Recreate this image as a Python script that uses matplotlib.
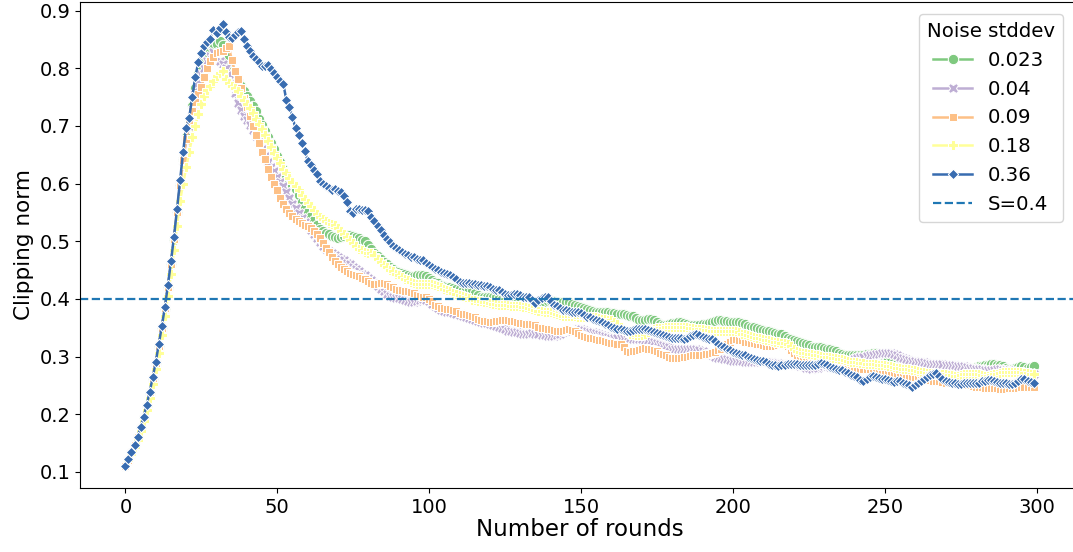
import numpy as np
import pandas as pd
import matplotlib
matplotlib.use("Agg")
import matplotlib.pyplot as plt
import seaborn as sns

rounds = np.arange(300)
noise_levels = ["0.023", "0.04", "0.09", "0.18", "0.36"]
threshold = 0.4

# clipping norm per round
norm_023 = [
    0.110, 0.121, 0.133, 0.146, 0.160, 0.176, 0.194, 0.214, 0.237, 0.262,
    0.289, 0.319, 0.350, 0.383, 0.420, 0.460, 0.503, 0.550, 0.598, 0.642,
    0.680, 0.705, 0.735, 0.765, 0.790, 0.805, 0.815, 0.822, 0.830, 0.838,
    0.842, 0.847, 0.840, 0.820, 0.805, 0.795, 0.785, 0.778, 0.770, 0.760,
    0.752, 0.743, 0.735, 0.725, 0.712, 0.702, 0.692, 0.680, 0.670, 0.660,
    0.648, 0.638, 0.625, 0.614, 0.606, 0.598, 0.590, 0.580, 0.568, 0.558,
    0.550, 0.543, 0.536, 0.528, 0.522, 0.518, 0.515, 0.512, 0.509, 0.507,
    0.506, 0.507, 0.509, 0.510, 0.510, 0.509, 0.507, 0.505, 0.502, 0.500,
    0.493, 0.487, 0.479, 0.474, 0.469, 0.464, 0.460, 0.456, 0.452, 0.449,
    0.447, 0.445, 0.443, 0.441, 0.440, 0.440, 0.441, 0.441, 0.441, 0.440,
    0.437, 0.433, 0.429, 0.427, 0.425, 0.423, 0.421, 0.420, 0.419, 0.418,
    0.417, 0.416, 0.415, 0.415, 0.413, 0.410, 0.406, 0.403, 0.403, 0.403,
    0.403, 0.403, 0.403, 0.402, 0.400, 0.398, 0.396, 0.394, 0.394, 0.393,
    0.393, 0.392, 0.392, 0.392, 0.393, 0.394, 0.394, 0.394, 0.395, 0.396,
    0.396, 0.396, 0.395, 0.395, 0.394, 0.394, 0.394, 0.392, 0.390, 0.388,
    0.386, 0.384, 0.382, 0.380, 0.379, 0.378, 0.377, 0.377, 0.377, 0.377,
    0.376, 0.375, 0.374, 0.374, 0.373, 0.372, 0.371, 0.370, 0.367, 0.363,
    0.363, 0.364, 0.365, 0.366, 0.364, 0.360, 0.356, 0.354, 0.355, 0.357,
    0.358, 0.359, 0.360, 0.360, 0.359, 0.357, 0.355, 0.354, 0.354, 0.355,
    0.356, 0.357, 0.358, 0.360, 0.362, 0.363, 0.363, 0.362, 0.361, 0.360,
    0.360, 0.360, 0.360, 0.359, 0.356, 0.353, 0.352, 0.351, 0.350, 0.348,
    0.346, 0.345, 0.344, 0.343, 0.341, 0.340, 0.339, 0.336, 0.333, 0.330,
    0.328, 0.327, 0.325, 0.324, 0.322, 0.320, 0.317, 0.316, 0.316, 0.316,
    0.315, 0.314, 0.313, 0.312, 0.310, 0.307, 0.304, 0.303, 0.302, 0.302,
    0.303, 0.303, 0.303, 0.303, 0.304, 0.305, 0.306, 0.307, 0.305, 0.302,
    0.299, 0.296, 0.293, 0.291, 0.289, 0.288, 0.287, 0.286, 0.285, 0.284,
    0.283, 0.282, 0.281, 0.280, 0.279, 0.278, 0.278, 0.277, 0.277, 0.276,
    0.276, 0.276, 0.276, 0.276, 0.277, 0.277, 0.278, 0.279, 0.280, 0.281,
    0.282, 0.283, 0.284, 0.285, 0.286, 0.287, 0.287, 0.286, 0.285, 0.284,
    0.281, 0.279, 0.278, 0.280, 0.282, 0.283, 0.282, 0.281, 0.282, 0.284,
]

norm_04 = [
    0.110, 0.121, 0.133, 0.146, 0.160, 0.176, 0.194, 0.214, 0.237, 0.262,
    0.289, 0.319, 0.350, 0.384, 0.421, 0.461, 0.504, 0.551, 0.598, 0.640,
    0.675, 0.700, 0.728, 0.755, 0.775, 0.790, 0.800, 0.812, 0.822, 0.828,
    0.820, 0.812, 0.808, 0.800, 0.790, 0.775, 0.757, 0.740, 0.728, 0.718,
    0.710, 0.702, 0.693, 0.683, 0.672, 0.660, 0.648, 0.638, 0.629, 0.621,
    0.612, 0.603, 0.595, 0.585, 0.575, 0.565, 0.557, 0.549, 0.541, 0.533,
    0.526, 0.519, 0.512, 0.505, 0.498, 0.492, 0.487, 0.483, 0.479, 0.476,
    0.473, 0.470, 0.467, 0.463, 0.460, 0.456, 0.452, 0.448, 0.444, 0.441,
    0.437, 0.432, 0.427, 0.422, 0.418, 0.413, 0.409, 0.405, 0.403, 0.402,
    0.401, 0.400, 0.398, 0.396, 0.394, 0.395, 0.397, 0.399, 0.400, 0.399,
    0.396, 0.392, 0.388, 0.384, 0.381, 0.379, 0.378, 0.377, 0.375, 0.373,
    0.372, 0.371, 0.369, 0.367, 0.365, 0.364, 0.362, 0.360, 0.359, 0.358,
    0.357, 0.355, 0.353, 0.351, 0.349, 0.347, 0.345, 0.344, 0.343, 0.342,
    0.341, 0.340, 0.340, 0.340, 0.341, 0.340, 0.339, 0.338, 0.337, 0.336,
    0.335, 0.336, 0.338, 0.340, 0.342, 0.344, 0.346, 0.347, 0.348, 0.348,
    0.347, 0.346, 0.344, 0.343, 0.342, 0.341, 0.339, 0.337, 0.335, 0.334,
    0.333, 0.333, 0.333, 0.333, 0.332, 0.332, 0.332, 0.331, 0.331, 0.331,
    0.330, 0.329, 0.328, 0.327, 0.325, 0.324, 0.322, 0.320, 0.318, 0.316,
    0.314, 0.313, 0.313, 0.313, 0.314, 0.314, 0.314, 0.313, 0.313, 0.311,
    0.309, 0.307, 0.305, 0.302, 0.300, 0.298, 0.297, 0.296, 0.295, 0.294,
    0.293, 0.293, 0.292, 0.292, 0.291, 0.291, 0.290, 0.290, 0.290, 0.290,
    0.290, 0.290, 0.290, 0.290, 0.289, 0.289, 0.288, 0.288, 0.287, 0.287,
    0.286, 0.285, 0.284, 0.283, 0.281, 0.280, 0.279, 0.280, 0.281, 0.283,
    0.283, 0.283, 0.282, 0.281, 0.281, 0.281, 0.283, 0.286, 0.289, 0.292,
    0.295, 0.297, 0.299, 0.300, 0.301, 0.302, 0.303, 0.304, 0.305, 0.306,
    0.307, 0.307, 0.306, 0.304, 0.302, 0.300, 0.298, 0.296, 0.294, 0.293,
    0.292, 0.291, 0.290, 0.290, 0.289, 0.288, 0.288, 0.287, 0.287, 0.287,
    0.286, 0.286, 0.285, 0.285, 0.284, 0.284, 0.283, 0.282, 0.281, 0.280,
    0.279, 0.279, 0.278, 0.277, 0.276, 0.276, 0.277, 0.278, 0.278, 0.277,
    0.277, 0.276, 0.275, 0.274, 0.274, 0.273, 0.272, 0.271, 0.271, 0.270,
]

norm_09 = [
    0.110, 0.121, 0.133, 0.146, 0.160, 0.176, 0.194, 0.214, 0.237, 0.262,
    0.289, 0.319, 0.350, 0.384, 0.421, 0.461, 0.504, 0.551, 0.598, 0.641,
    0.678, 0.703, 0.725, 0.742, 0.755, 0.768, 0.785, 0.800, 0.812, 0.820,
    0.826, 0.828, 0.830, 0.835, 0.838, 0.815, 0.795, 0.782, 0.765, 0.748,
    0.732, 0.718, 0.700, 0.685, 0.670, 0.655, 0.643, 0.625, 0.612, 0.600,
    0.588, 0.575, 0.565, 0.556, 0.549, 0.543, 0.538, 0.535, 0.532, 0.529,
    0.526, 0.523, 0.518, 0.512, 0.505, 0.497, 0.489, 0.481, 0.473, 0.465,
    0.460, 0.456, 0.452, 0.448, 0.445, 0.444, 0.442, 0.440, 0.437, 0.434,
    0.431, 0.428, 0.426, 0.426, 0.427, 0.428, 0.426, 0.423, 0.420, 0.418,
    0.416, 0.415, 0.414, 0.413, 0.412, 0.410, 0.407, 0.405, 0.404, 0.403,
    0.400, 0.396, 0.390, 0.387, 0.385, 0.384, 0.383, 0.382, 0.381, 0.379,
    0.376, 0.374, 0.373, 0.372, 0.370, 0.368, 0.366, 0.364, 0.362, 0.361,
    0.360, 0.360, 0.361, 0.362, 0.363, 0.363, 0.363, 0.362, 0.361, 0.360,
    0.359, 0.358, 0.357, 0.356, 0.356, 0.354, 0.352, 0.350, 0.349, 0.348,
    0.347, 0.346, 0.345, 0.345, 0.345, 0.346, 0.347, 0.346, 0.344, 0.341,
    0.338, 0.335, 0.334, 0.333, 0.332, 0.331, 0.329, 0.328, 0.327, 0.326,
    0.324, 0.323, 0.322, 0.321, 0.316, 0.310, 0.308, 0.309, 0.310, 0.312,
    0.314, 0.315, 0.314, 0.313, 0.311, 0.309, 0.306, 0.304, 0.302, 0.300,
    0.298, 0.297, 0.297, 0.298, 0.299, 0.300, 0.301, 0.302, 0.302, 0.302,
    0.303, 0.304, 0.305, 0.306, 0.308, 0.311, 0.314, 0.318, 0.322, 0.326,
    0.329, 0.330, 0.329, 0.328, 0.326, 0.325, 0.324, 0.323, 0.322, 0.321,
    0.320, 0.319, 0.318, 0.318, 0.319, 0.320, 0.321, 0.321, 0.318, 0.312,
    0.306, 0.302, 0.299, 0.296, 0.294, 0.292, 0.291, 0.290, 0.289, 0.288,
    0.287, 0.286, 0.285, 0.284, 0.283, 0.282, 0.281, 0.280, 0.280, 0.279,
    0.279, 0.279, 0.278, 0.278, 0.279, 0.278, 0.277, 0.276, 0.275, 0.274,
    0.273, 0.272, 0.271, 0.270, 0.269, 0.268, 0.267, 0.266, 0.265, 0.264,
    0.264, 0.263, 0.262, 0.261, 0.260, 0.259, 0.258, 0.258, 0.257, 0.256,
    0.255, 0.255, 0.254, 0.254, 0.253, 0.252, 0.252, 0.251, 0.250, 0.249,
    0.248, 0.248, 0.247, 0.246, 0.246, 0.245, 0.245, 0.245, 0.244, 0.244,
    0.244, 0.245, 0.245, 0.246, 0.246, 0.247, 0.247, 0.247, 0.248, 0.248,
]

norm_18 = [
    0.110, 0.120, 0.131, 0.143, 0.156, 0.171, 0.188, 0.207, 0.228, 0.252,
    0.278, 0.306, 0.337, 0.370, 0.405, 0.443, 0.484, 0.527, 0.570, 0.600,
    0.628, 0.655, 0.680, 0.700, 0.720, 0.738, 0.752, 0.762, 0.770, 0.778,
    0.786, 0.792, 0.795, 0.782, 0.775, 0.770, 0.766, 0.760, 0.752, 0.745,
    0.738, 0.731, 0.722, 0.712, 0.703, 0.694, 0.684, 0.673, 0.663, 0.653,
    0.644, 0.635, 0.626, 0.618, 0.610, 0.602, 0.595, 0.588, 0.580, 0.573,
    0.567, 0.561, 0.554, 0.548, 0.542, 0.538, 0.535, 0.532, 0.530, 0.528,
    0.523, 0.518, 0.512, 0.507, 0.502, 0.497, 0.492, 0.487, 0.484, 0.482,
    0.480, 0.479, 0.476, 0.470, 0.464, 0.459, 0.455, 0.451, 0.448, 0.444,
    0.441, 0.438, 0.435, 0.432, 0.429, 0.427, 0.426, 0.426, 0.426, 0.426,
    0.426, 0.426, 0.424, 0.422, 0.420, 0.418, 0.416, 0.414, 0.411, 0.409,
    0.407, 0.405, 0.403, 0.401, 0.399, 0.398, 0.397, 0.396, 0.395, 0.394,
    0.393, 0.392, 0.391, 0.390, 0.390, 0.389, 0.389, 0.388, 0.388, 0.387,
    0.387, 0.386, 0.386, 0.384, 0.382, 0.380, 0.379, 0.379, 0.378, 0.378,
    0.377, 0.376, 0.374, 0.372, 0.371, 0.371, 0.370, 0.370, 0.370, 0.369,
    0.369, 0.369, 0.368, 0.368, 0.368, 0.368, 0.367, 0.366, 0.365, 0.364,
    0.363, 0.360, 0.356, 0.351, 0.346, 0.342, 0.340, 0.339, 0.338, 0.337,
    0.338, 0.340, 0.343, 0.346, 0.348, 0.349, 0.350, 0.350, 0.351, 0.351,
    0.351, 0.351, 0.351, 0.351, 0.351, 0.351, 0.350, 0.349, 0.348, 0.347,
    0.347, 0.346, 0.346, 0.345, 0.345, 0.345, 0.345, 0.345, 0.345, 0.345,
    0.345, 0.344, 0.342, 0.340, 0.339, 0.337, 0.336, 0.334, 0.333, 0.332,
    0.331, 0.329, 0.328, 0.327, 0.326, 0.325, 0.324, 0.323, 0.322, 0.318,
    0.313, 0.310, 0.308, 0.307, 0.306, 0.305, 0.304, 0.303, 0.302, 0.301,
    0.300, 0.299, 0.299, 0.298, 0.297, 0.296, 0.295, 0.294, 0.293, 0.291,
    0.290, 0.290, 0.289, 0.289, 0.288, 0.288, 0.287, 0.287, 0.286, 0.285,
    0.285, 0.284, 0.283, 0.282, 0.281, 0.280, 0.279, 0.279, 0.278, 0.277,
    0.276, 0.275, 0.274, 0.273, 0.272, 0.271, 0.271, 0.270, 0.270, 0.269,
    0.269, 0.268, 0.268, 0.267, 0.267, 0.268, 0.269, 0.270, 0.270, 0.270,
    0.270, 0.269, 0.268, 0.267, 0.267, 0.268, 0.269, 0.270, 0.272, 0.273,
    0.273, 0.273, 0.273, 0.273, 0.273, 0.273, 0.272, 0.271, 0.270, 0.270,
]

norm_36 = [
    0.110, 0.122, 0.134, 0.147, 0.161, 0.178, 0.196, 0.216, 0.239, 0.264,
    0.291, 0.322, 0.353, 0.386, 0.424, 0.465, 0.508, 0.556, 0.606, 0.655,
    0.697, 0.714, 0.750, 0.785, 0.810, 0.826, 0.838, 0.845, 0.850, 0.866,
    0.861, 0.870, 0.877, 0.862, 0.855, 0.852, 0.857, 0.862, 0.864, 0.850,
    0.838, 0.830, 0.822, 0.816, 0.810, 0.803, 0.804, 0.806, 0.798, 0.792,
    0.785, 0.778, 0.772, 0.745, 0.733, 0.715, 0.696, 0.685, 0.670, 0.657,
    0.640, 0.632, 0.623, 0.617, 0.605, 0.600, 0.596, 0.592, 0.589, 0.590,
    0.587, 0.586, 0.578, 0.568, 0.552, 0.549, 0.556, 0.556, 0.554, 0.555,
    0.553, 0.542, 0.535, 0.526, 0.520, 0.510, 0.504, 0.498, 0.492, 0.488,
    0.484, 0.481, 0.478, 0.476, 0.473, 0.472, 0.470, 0.468, 0.467, 0.462,
    0.458, 0.455, 0.452, 0.450, 0.447, 0.445, 0.443, 0.441, 0.438, 0.434,
    0.430, 0.428, 0.428, 0.427, 0.426, 0.426, 0.425, 0.424, 0.423, 0.422,
    0.420, 0.418, 0.416, 0.415, 0.412, 0.408, 0.406, 0.407, 0.409, 0.409,
    0.406, 0.404, 0.403, 0.403, 0.398, 0.393, 0.398, 0.401, 0.403, 0.403,
    0.396, 0.390, 0.388, 0.384, 0.381, 0.380, 0.379, 0.378, 0.377, 0.377,
    0.375, 0.372, 0.369, 0.368, 0.366, 0.364, 0.362, 0.360, 0.357, 0.354,
    0.351, 0.350, 0.348, 0.347, 0.346, 0.345, 0.345, 0.346, 0.347, 0.348,
    0.348, 0.348, 0.346, 0.344, 0.342, 0.341, 0.339, 0.337, 0.335, 0.334,
    0.333, 0.332, 0.333, 0.333, 0.331, 0.332, 0.335, 0.338, 0.340, 0.337,
    0.334, 0.332, 0.331, 0.330, 0.327, 0.322, 0.318, 0.316, 0.314, 0.311,
    0.308, 0.306, 0.305, 0.303, 0.302, 0.300, 0.298, 0.296, 0.294, 0.293,
    0.292, 0.290, 0.288, 0.286, 0.285, 0.284, 0.285, 0.286, 0.287, 0.287,
    0.287, 0.287, 0.286, 0.286, 0.286, 0.285, 0.285, 0.286, 0.288, 0.289,
    0.288, 0.285, 0.282, 0.281, 0.279, 0.277, 0.276, 0.274, 0.271, 0.268,
    0.266, 0.264, 0.260, 0.258, 0.261, 0.264, 0.266, 0.265, 0.263, 0.262,
    0.261, 0.259, 0.257, 0.256, 0.258, 0.258, 0.255, 0.252, 0.250, 0.248,
    0.250, 0.254, 0.258, 0.262, 0.265, 0.268, 0.270, 0.272, 0.267, 0.262,
    0.258, 0.256, 0.255, 0.254, 0.253, 0.253, 0.254, 0.255, 0.255, 0.255,
    0.255, 0.255, 0.257, 0.258, 0.259, 0.260, 0.258, 0.256, 0.255, 0.255,
    0.254, 0.253, 0.253, 0.254, 0.258, 0.262, 0.261, 0.258, 0.256, 0.255,
]

series = [norm_023, norm_04, norm_09, norm_18, norm_36]
frames = []
for lvl, vals in zip(noise_levels, series):
    frames.append(pd.DataFrame({"round": rounds, "clip": vals, "Noise stddev": lvl}))
df = pd.concat(frames, ignore_index=True)

fig = plt.figure(figsize=(10.73, 5.52), dpi=100)
ax = fig.add_axes([80 / 1073, 1 - 488.3 / 552, 999 / 1073, 486.6 / 552])

sns.lineplot(data=df, x="round", y="clip", hue="Noise stddev", style="Noise stddev",
             hue_order=noise_levels, style_order=noise_levels,
             markers=True, dashes=False, palette="Accent", ax=ax,
             markersize=7.5, linewidth=1.8)
ax.axhline(threshold, ls="--", color="#1f77b4", lw=1.6, label="S=0.4")

ax.set_xlabel("Number of rounds", fontsize=16.5, labelpad=1)
ax.set_ylabel("Clipping norm", fontsize=15.5)
ax.tick_params(labelsize=14)
ax.legend(title="Noise stddev", fontsize=14.2, title_fontsize=14.2,
          loc="upper right", bbox_to_anchor=(0.9935, 0.995))

fig.savefig("out.png", dpi=100)
